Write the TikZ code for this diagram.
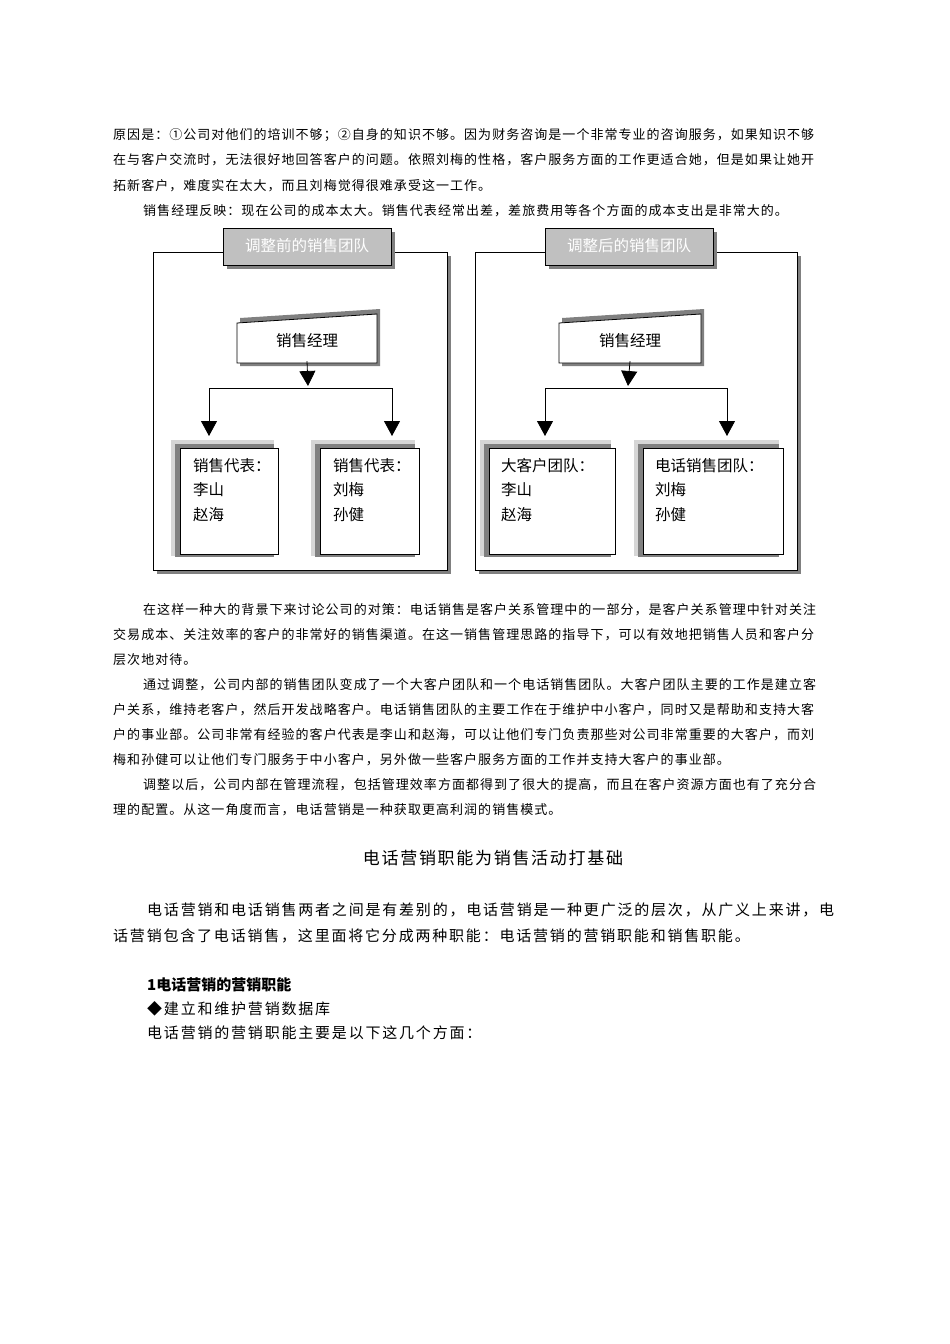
\documentclass[tikz,border=0pt]{standalone}
\usepackage{fontspec}
\setmainfont{Noto Sans CJK SC}
\newfontfamily\bodyf[LetterSpace=8]{Noto Sans CJK SC}
\newfontfamily\bigf[LetterSpace=12]{Noto Sans CJK SC}
\newfontfamily\headf[LetterSpace=10]{Noto Sans CJK SC}
\usetikzlibrary{arrows.meta}
\definecolor{tabgray}{HTML}{C0C0C0}
\definecolor{shadowdark}{HTML}{808080}
\definecolor{shadowlight}{HTML}{D6D6D6}
\tikzset{
  x=1pt,y=-1pt,
  small/.style={anchor=west,inner sep=0pt,font=\bodyf\fontsize{13}{13}\selectfont},
  big/.style={anchor=west,inner sep=0pt,font=\bigf\fontsize{15}{15}\selectfont},
  frame/.style={draw=black,fill=white,line width=0.8pt},
  tab/.style={draw=black,fill=tabgray,line width=0.8pt},
  tabtext/.style={inner sep=0pt,text=white,font=\fontsize{15.5}{16}\selectfont},
  boxtext/.style={inner sep=0pt,font=\fontsize{15.5}{16}\selectfont},
  childbox/.style={draw=black,fill=white,line width=0.8pt},
  conn/.style={line width=0.8pt},
  tri/.style={-{Triangle[width=16pt,length=15pt]}},
}
\begin{document}
\begin{tikzpicture}
\useasboundingbox (0,0) rectangle (950,1344);
\fill[white] (0,0) rectangle (950,1344);
% top text
\node[small] (t1) at (113,135) {原因是：①公司对他们的培训不够；②自身的知识不够。因为财务咨询是一个非常专业的咨询服务，如果知识不够};
\node[small] (t2) at (113,160) {在与客户交流时，无法很好地回答客户的问题。依照刘梅的性格，客户服务方面的工作更适合她，但是如果让她开};
\node[small] (t3) at (113,186) {拓新客户，难度实在太大，而且刘梅觉得很难承受这一工作。};
\node[small] (t4) at (143,211) {销售经理反映：现在公司的成本太大。销售代表经常出差，差旅费用等各个方面的成本支出是非常大的。};

% ===== panels =====
\foreach \xa/\xb/\ta/\ma/\mb in {153/447/223/237/377, 475/797/545/559/701}{
    \fill[shadowdark] (\xa+4,256) rectangle (\xb+4,574);
    \draw[frame] (\xa,252) rectangle (\xb,570);
    \fill[shadowdark] (\ta+4,232) rectangle (\ta+172,269);
    \draw[tab] (\ta,228) rectangle (\ta+168,265);
    \fill[shadowdark] (\ma+3,318) -- (\mb+3,309) -- (\mb+3,366) -- (\ma+3,366) -- cycle;
    \draw[frame] (\ma,323) -- (\mb,314) -- (\mb,363) -- (\ma,363) -- cycle;
}
\node[tabtext] (tabL) at (307,246) {调整前的销售团队};
\node[tabtext] (tabR) at (629,246) {调整后的销售团队};
\node[boxtext,minimum width=140pt,minimum height=40pt] (mL) at (307,341) {销售经理};
\node[boxtext,minimum width=140pt,minimum height=40pt] (mR) at (630,341) {销售经理};

% child boxes with shadows
\foreach \xa/\xb in {180/278,320/419,489/615,643/783}{
  \fill[shadowlight] (\xa-9,440) rectangle (\xb-4,556);
  \fill[shadowdark] (\xa-5,444) rectangle (\xb-4,557);
  \draw[childbox] (\xa,448) rectangle (\xb,554);
}
\node[boxtext,anchor=north west,align=left] (aL) at (193,458) {销售代表：\\[8.5pt]李山\\[8.5pt]赵海};
\node[boxtext,anchor=north west,align=left] (bL) at (333,458) {销售代表：\\[8.5pt]刘梅\\[8.5pt]孙健};
\node[boxtext,anchor=north west,align=left] (aR) at (501,458) {大客户团队：\\[8.5pt]李山\\[8.5pt]赵海};
\node[boxtext,anchor=north west,align=left] (bR) at (655,458) {电话销售团队：\\[8.5pt]刘梅\\[8.5pt]孙健};

\coordinate (jL) at (308,388);
\coordinate (jR) at (628,388);
\coordinate (eL1) at (209,436); \coordinate (eL2) at (392,436);
\coordinate (eR1) at (545,436); \coordinate (eR2) at (727,436);
\draw[conn,tri] (mL.south) -- (308,386);
\draw[conn,tri] (mR.south) -- (628,386);
\draw[conn,tri] (jL) -| (eL1);
\draw[conn,tri] (jL) -| (eL2);
\draw[conn,tri] (jR) -| (eR1);
\draw[conn,tri] (jR) -| (eR2);

% middle text
\node[small] (p1) at (143,610) {在这样一种大的背景下来讨论公司的对策：电话销售是客户关系管理中的一部分，是客户关系管理中针对关注};
\node[small] (p2) at (113,635) {交易成本、关注效率的客户的非常好的销售渠道。在这一销售管理思路的指导下，可以有效地把销售人员和客户分};
\node[small] (p3) at (113,660) {层次地对待。};
\node[small] (p4) at (143,685) {通过调整，公司内部的销售团队变成了一个大客户团队和一个电话销售团队。大客户团队主要的工作是建立客};
\node[small] (p5) at (113,710) {户关系，维持老客户，然后开发战略客户。电话销售团队的主要工作在于维护中小客户，同时又是帮助和支持大客};
\node[small] (p6) at (113,735) {户的事业部。公司非常有经验的客户代表是李山和赵海，可以让他们专门负责那些对公司非常重要的大客户，而刘};
\node[small] (p7) at (113,760) {梅和孙健可以让他们专门服务于中小客户，另外做一些客户服务方面的工作并支持大客户的事业部。};
\node[small] (p8) at (143,785) {调整以后，公司内部在管理流程，包括管理效率方面都得到了很大的提高，而且在客户资源方面也有了充分合};
\node[small] (p9) at (113,810) {理的配置。从这一角度而言，电话营销是一种获取更高利润的销售模式。};

% heading and lower text
\node[inner sep=0pt,font=\headf\fontsize{17}{17}\selectfont] (h) at (493,858) {电话营销职能为销售活动打基础};
\node[big] (q1) at (147,910) {电话营销和电话销售两者之间是有差别的，电话营销是一种更广泛的层次，从广义上来讲，电};
\node[big] (q2) at (113,936) {话营销包含了电话销售，这里面将它分成两种职能：电话营销的营销职能和销售职能。};
\node[anchor=west,inner sep=0pt,font=\bfseries\fontsize{15}{15}\selectfont] (s1) at (147,985) {1电话营销的营销职能};
\node[big] (s2) at (147,1009) {◆建立和维护营销数据库};
\node[big] (s3) at (147,1033) {电话营销的营销职能主要是以下这几个方面：};
\end{tikzpicture}
\end{document}
